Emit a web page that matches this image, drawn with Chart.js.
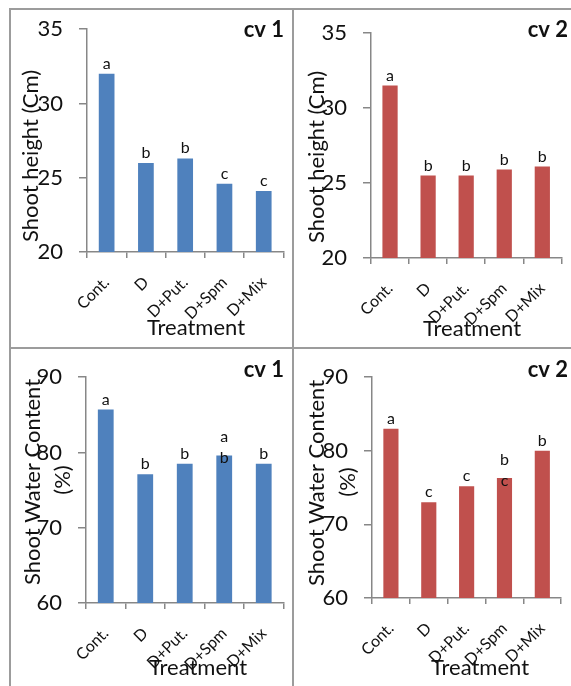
<!DOCTYPE html>
<html>
<head>
<meta charset="utf-8">
<script src="https://cdn.jsdelivr.net/npm/chart.js@4"></script>
<style>
  html, body { margin: 0; padding: 0; background: #fff; }
  body { width: 571px; height: 686px; position: relative; overflow: hidden; }
  canvas { position: absolute; }
  .rule { position: absolute; background: #9c9c9c; z-index: 5; }
</style>
</head>
<body>
<canvas id="p1" style="left:0;top:0" width="293" height="348"></canvas>
<canvas id="p2" style="left:293px;top:0" width="278" height="348"></canvas>
<canvas id="p3" style="left:0;top:348px" width="293" height="338"></canvas>
<canvas id="p4" style="left:293px;top:348px" width="278" height="338"></canvas>
<div class="rule" style="left:10px;top:8px;width:561px;height:2px"></div>
<div class="rule" style="left:9px;top:8px;width:2px;height:678px"></div>
<div class="rule" style="left:292px;top:8px;width:2px;height:678px"></div>
<div class="rule" style="left:10px;top:347px;width:561px;height:2px"></div>
<script>
// Treatments on the x axis
const categories = ['Cont.', 'D', 'D+Put.', 'D+Spm', 'D+Mix'];

// Shoot height (cm)
const heightCv1 = [32.0, 26.0, 26.3, 24.6, 24.1];
const heightCv2 = [31.5, 25.5, 25.5, 25.9, 26.1];
const heightLettersCv1 = ['a', 'b', 'b', 'c', 'c'];
const heightLettersCv2 = ['a', 'b', 'b', 'b', 'b'];
const heightTicks = [20, 25, 30, 35];

// Shoot water content (%)
const waterCv1 = [85.7, 77.1, 78.5, 79.6, 78.5];
const waterCv2 = [83.0, 73.0, 75.2, 76.3, 80.0];
const waterLettersCv1 = ['a', 'b', 'b', 'a\nb', 'b'];
const waterLettersCv2 = ['a', 'c', 'c', 'b\nc', 'b'];
const waterTicks = [60, 70, 80, 90];

const FONT = 'Lato, "Liberation Sans", sans-serif';
const BLUE = '#4f81bd';
const RED = '#c0504d';
const AXIS = '#878787';
const INK = '#111';

// Significance letters and panel texts
const panelText = {
  id: 'panelText',
  afterDatasetsDraw(chart) {
    const o = chart.options.plugins.panelText;
    const ctx = chart.ctx;
    ctx.save();
    ctx.fillStyle = INK;
    // letters above bars
    ctx.font = '16px ' + FONT;
    ctx.textAlign = 'center';
    ctx.textBaseline = 'alphabetic';
    const meta = chart.getDatasetMeta(0);
    meta.data.forEach((bar, i) => {
      const lines = o.letters[i].split('\n');
      let base = lines.length > 1 ? bar.y + 8 : bar.y - 5;
      for (let k = lines.length - 1; k >= 0; k--) {
        ctx.fillText(lines[k], bar.x, base);
        base -= 21;
      }
    });
    // cultivar tag
    ctx.font = 'bold 22px ' + FONT;
    ctx.textAlign = 'right';
    ctx.fillText(o.cv, o.cvPos[0], o.cvPos[1]);
    // x title
    ctx.font = '22px ' + FONT;
    ctx.textAlign = 'center';
    ctx.fillText('Treatment', o.xTitle[0], o.xTitle[1]);
    // y title (rotated)
    ctx.textBaseline = 'middle';
    o.yTitle.forEach(t => {
      ctx.save();
      ctx.translate(t.x, t.y);
      ctx.rotate(-Math.PI / 2);
      ctx.fillText(t.text, 0, 0);
      ctx.restore();
    });
    ctx.restore();
  }
};

function makePanel(id, p) {
  new Chart(document.getElementById(id), {
    type: 'bar',
    data: {
      labels: categories,
      datasets: [{
        data: p.values,
        backgroundColor: p.color,
        borderWidth: 0,
        barPercentage: 0.4,
        categoryPercentage: 1.0
      }]
    },
    options: {
      responsive: false,
      animation: false,
      devicePixelRatio: 1,
      layout: { padding: { left: 0, top: p.padTop, right: p.padRight, bottom: 0 } },
      plugins: {
        legend: { display: false },
        tooltip: { enabled: false },
        panelText: {
          letters: p.letters, cv: p.cv, cvPos: p.cvPos,
          xTitle: p.xTitle, yTitle: p.yTitle
        }
      },
      scales: {
        x: {
          grid: { drawOnChartArea: false, drawTicks: true, tickLength: 6, color: AXIS, lineWidth: 1.5, offset: true },
          border: { display: true, color: AXIS, width: 1.5 },
          ticks: { color: INK, font: { family: FONT, size: 16 }, minRotation: 45, maxRotation: 45, autoSkip: false, padding: 15 },
          afterFit: s => { s.height = p.xH; }
        },
        y: {
          min: p.ticks[0],
          max: p.ticks[p.ticks.length - 1],
          afterBuildTicks: s => { s.ticks = p.ticks.map(v => ({ value: v })); },
          grid: { drawOnChartArea: false, drawTicks: true, tickLength: 8, color: AXIS, lineWidth: 1.5 },
          border: { display: true, color: AXIS, width: 1.5 },
          ticks: { color: INK, font: { family: FONT, size: 22 }, padding: 16 },
          afterFit: s => { s.width = p.yW; }
        }
      }
    },
    plugins: [panelText]
  });
}

makePanel('p1', {
  values: heightCv1, letters: heightLettersCv1, color: BLUE, ticks: heightTicks,
  yW: 87, padTop: 24, padRight: 7, xH: 96,
  cv: 'cv 1', cvPos: [284, 37], xTitle: [196, 335],
  yTitle: [{ text: 'Shoot height (Cm)', x: 31, y: 156 }]
});
makePanel('p2', {
  values: heightCv2, letters: heightLettersCv2, color: RED, ticks: heightTicks,
  yW: 78, padTop: 33, padRight: 1, xH: 90,
  cv: 'cv 2', cvPos: [275, 37], xTitle: [179, 336],
  yTitle: [{ text: 'Shoot height (Cm)', x: 24, y: 157 }]
});
makePanel('p3', {
  values: waterCv1, letters: waterLettersCv1, color: BLUE, ticks: waterTicks,
  yW: 86, padTop: 14, padRight: 7, xH: 83,
  cv: 'cv 1', cvPos: [284, 29], xTitle: [198, 327],
  yTitle: [{ text: 'Shoot Water Content', x: 33, y: 134 }, { text: '(%)', x: 63, y: 132 }]
});
makePanel('p4', {
  values: waterCv2, letters: waterLettersCv2, color: RED, ticks: waterTicks,
  yW: 79, padTop: 14, padRight: 1, xH: 88,
  cv: 'cv 2', cvPos: [275, 29], xTitle: [187, 327],
  yTitle: [{ text: 'Shoot Water Content', x: 24, y: 135 }, { text: '(%)', x: 55, y: 134 }]
});
</script>
</body>
</html>
